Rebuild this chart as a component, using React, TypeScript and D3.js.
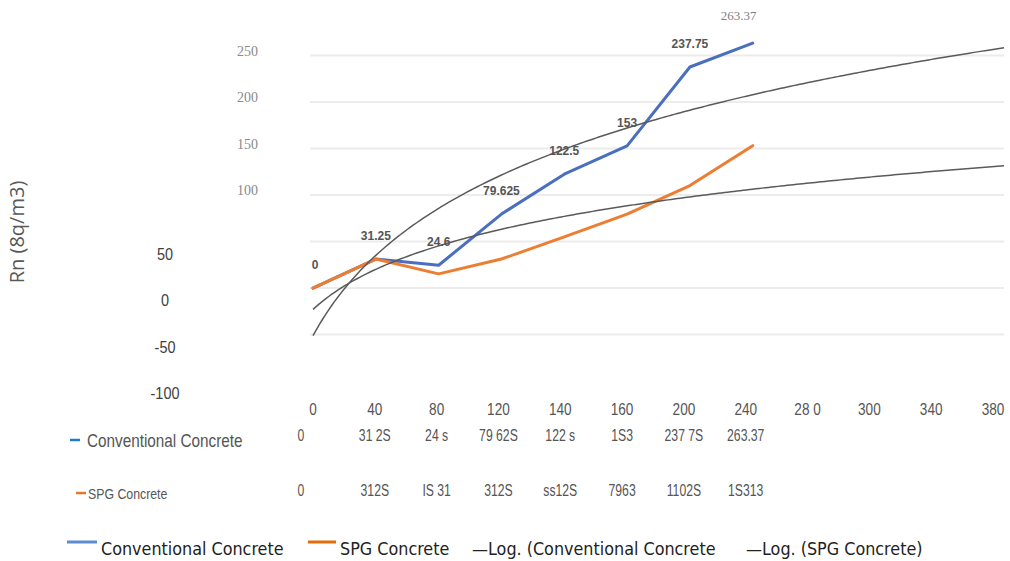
import React from "react";
import * as d3 from "d3";

// ---- data ----
const categories = [1, 2, 3, 4, 5, 6, 7, 8];
const conventional = [0, 31.25, 24.6, 79.625, 122.5, 153, 237.75, 263.37];
const spg = [0, 31.25, 15.31, 31.25, 55.125, 79.63, 110.25, 153.13];
const pointLabels = ["0", "31.25", "24.6", "79.625", "122.5", "153", "237.75", "263.37"];
const xTickLabels = ["0", "40", "80", "120", "140", "160", "200", "240", "28 0", "300", "340", "380"];
const yTicksUpper = [250, 200, 150, 100];
const yTicksLower = [50, 0, -50, -100];
const yGrid = [-50, 0, 50, 100, 150, 200, 250];
const tableRowConv = ["0", "31 2S", "24 s", "79 62S", "122 s", "1S3", "237 7S", "263.37"];
const tableRowSpg = ["0", "312S", "IS 31", "312S", "ss12S", "7963", "1102S", "1S313"];
const forecastEnd = 12;

const W = 1010;
const H = 561;
const SANS = "'Liberation Sans', Arial, sans-serif";
const LEG = "'DejaVu Sans Condensed', 'DejaVu Sans', sans-serif";
const BLUE = "#4a6fbe";
const ORANGE = "#ed7d31";
const TREND = "#5a5a5a";

function logFit(xs: number[], ys: number[]) {
  const lx = xs.map((x) => Math.log(x));
  const mx = d3.mean(lx)!;
  const my = d3.mean(ys)!;
  let sxy = 0, sxx = 0;
  lx.forEach((v, i) => {
    sxy += (v - mx) * (ys[i] - my);
    sxx += (v - mx) * (v - mx);
  });
  const a = sxy / sxx;
  return { a, b: my - a * mx };
}

// condensed text (narrow look) via horizontal scaling
function NText(props: { x: number; y: number; size: number; sx: number; anchor?: string; fill?: string; children: React.ReactNode }) {
  const { x, y, size, sx, anchor = "start", fill = "#555", children } = props;
  return (
    <text
      transform={`translate(${x},${y}) scale(${sx},1)`}
      textAnchor={anchor}
      fontFamily={SANS}
      fontSize={size}
      fill={fill}
    >
      {children}
    </text>
  );
}

export default function App() {
  const x = d3.scaleLinear().domain([1, forecastEnd]).range([313, 1004]);
  const y = d3.scaleLinear().domain([-50, 250]).range([334.6, 55.6]);
  const xTick = d3.scalePoint<string>().domain(xTickLabels.map((_, i) => String(i))).range([313, 993]);
  const tableX = (i: number) => (i === 0 ? 301 : xTick(String(i))!);

  const line = d3.line<number>().x((_, i) => x(categories[i])).y((d) => y(d));

  const trendPath = (ys: number[]) => {
    const { a, b } = logFit(categories, ys);
    const xs = d3.range(1, forecastEnd + 0.0001, 0.05);
    return d3
      .line<number>()
      .x((t) => x(t))
      .y((t) => y(a * Math.log(t) + b))(xs)!;
  };

  return (
    <svg width={W} height={H} style={{ position: "absolute", left: 0, top: 0, background: "#fff" }}>
      <rect x={0} y={0} width={W} height={H} fill="#fff" />
      {/* gridlines */}
      {yGrid.map((v) => (
        <line key={v} x1={310} x2={1004} y1={y(v)} y2={y(v)} stroke="#ececec" strokeWidth={2} />
      ))}

      {/* y axis labels */}
      {yTicksUpper.map((v) => (
        <text key={"u" + v} x={258} y={y(v)} textAnchor="end" fontFamily="'Liberation Serif', serif" fontSize={14} fill="#8a8a8a">
          {v}
        </text>
      ))}
      {yTicksLower.map((v) => (
        <NText key={"l" + v} x={165} y={y(v) + 18} size={17} sx={0.85} anchor="middle" fill="#404040">
          {v}
        </NText>
      ))}
      <text
        transform={`translate(24,232) rotate(-90)`}
        textAnchor="middle"
        fontFamily="'Open Sans', sans-serif"
        fontSize={20}
        fill="#595959"
      >
        Rn (8q/m3)
      </text>

      {/* series */}
      <path d={line(conventional)!} fill="none" stroke={BLUE} strokeWidth={3} strokeLinejoin="round" strokeLinecap="round" />
      <path d={line(spg)!} fill="none" stroke={ORANGE} strokeWidth={3} strokeLinejoin="round" strokeLinecap="round" />
      <path d={trendPath(conventional)} fill="none" stroke={TREND} strokeWidth={1.5} />
      <path d={trendPath(spg)} fill="none" stroke={TREND} strokeWidth={1.5} />

      {/* data labels */}
      {conventional.map((v, i) => {
        const last = i === conventional.length - 1;
        return last ? (
          <text key={i} x={x(categories[i]) - 14} y={y(v) - 23} textAnchor="middle" fontFamily="'Liberation Serif', serif" fontSize={13} fill="#808080">
            {pointLabels[i]}
          </text>
        ) : (
          <text
            key={i}
            x={x(categories[i]) + (i === 0 ? 2 : 0)}
            y={y(v) - 19}
            textAnchor="middle"
            fontFamily={SANS}
            fontWeight="bold"
            fontSize={12}
            fill="#555"
          >
            {pointLabels[i]}
          </text>
        );
      })}

      {/* x tick labels */}
      {xTickLabels.map((t, i) => (
        <NText key={i} x={xTick(String(i))!} y={415} size={17} sx={0.8} anchor="middle" fill="#555">
          {t}
        </NText>
      ))}

      {/* table rows */}
      <line x1={70} x2={80} y1={440} y2={440} stroke="#1f7ad0" strokeWidth={2.5} />
      <NText x={87} y={447} size={18} sx={0.85} fill="#555">Conventional Concrete</NText>
      {tableRowConv.map((t, i) => (
        <NText key={i} x={tableX(i)} y={441} size={16.5} sx={0.74} anchor="middle" fill="#555">
          {t}
        </NText>
      ))}
      <line x1={76} x2={86} y1={493} y2={493} stroke="#e8772e" strokeWidth={2.5} />
      <NText x={88} y={499} size={14.5} sx={0.85} fill="#555">SPG Concrete</NText>
      {tableRowSpg.map((t, i) => (
        <NText key={i} x={tableX(i)} y={496} size={16.5} sx={0.74} anchor="middle" fill="#555">
          {t}
        </NText>
      ))}

      {/* bottom legend */}
      <line x1={67} x2={97} y1={542} y2={542} stroke="#5b8bd0" strokeWidth={3} />
      <text x={101} y={555} fontFamily={LEG} fontSize={17.8} fill="#222">Conventional Concrete</text>
      <line x1={308} x2={336} y1={542} y2={542} stroke="#e46c0a" strokeWidth={3} />
      <text x={340} y={555} fontFamily={LEG} fontSize={17.8} fill="#222">SPG Concrete</text>
      <text x={472} y={555} fontFamily={LEG} fontSize={17.8} fill="#222">—Log. (Conventional Concrete</text>
      <text x={746} y={555} fontFamily={LEG} fontSize={17.8} fill="#222">—Log. (SPG Concrete)</text>
    </svg>
  );
}
